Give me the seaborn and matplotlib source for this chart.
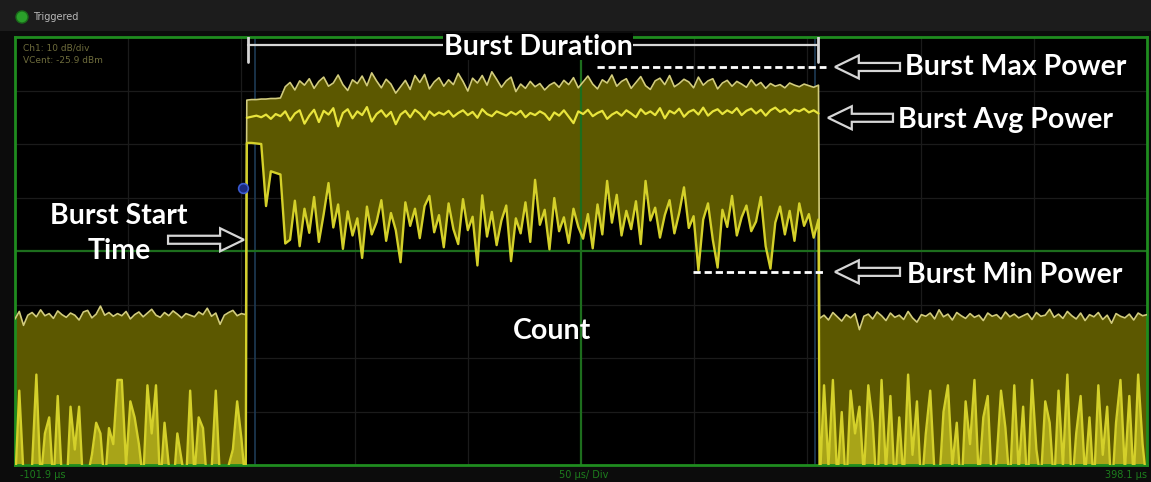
import numpy as np
import pandas as pd
import matplotlib
matplotlib.use("Agg")
import matplotlib.pyplot as plt
from matplotlib.patches import FancyArrow, Ellipse, Rectangle
import seaborn as sns

# ---------------- sweep settings ----------------
T_START = -101.9      # µs, left edge
T_DIV = 50.0          # µs / div
N_XDIV = 10
V_CENT = -25.9        # dBm, vertical centre
DB_DIV = 10.0         # dB / div
N_YDIV = 8
BURST_START = 0.5     # µs
BURST_END = 253.0     # µs
TRIGGER_T = -1.2
TRIGGER_LEVEL = -14.1

# ---------------- traces (dBm) ----------------
PRE_MAX = [-38.6, -37.2, -39.8, -37.9, -37.4, -38.2, -36.9, -38.0, -37.6, -38.5, -37.1,
           -37.8, -38.3, -37.5, -37.9, -38.8, -37.3, -37.0, -38.4, -37.7, -36.2, -37.9,
           -37.4, -38.1, -37.6, -38.0, -37.2, -38.6, -37.8, -37.3, -38.2, -37.5, -36.8,
           -37.9, -38.3, -37.4, -38.0, -37.1, -37.7, -38.4, -37.6, -37.9, -38.2, -37.3,
           -37.8, -36.6, -38.1, -37.5, -39.6, -37.9, -37.4, -37.0, -38.0, -37.6, -37.8]
PRE_MIN = [-70, -52, -68, -71, -66, -49, -69, -60, -57, -70, -53,
           -69, -72, -55, -63, -55, -71, -68, -64, -58, -60, -70,
           -59, -62, -50, -50, -66, -54, -57, -62, -69, -51, -60,
           -51, -70, -58, -66, -71, -60, -65, -70, -52, -68, -57,
           -59, -70, -67, -52, -69, -71, -66, -63, -54, -61, -70]

BURST_MAX = [2.3, 2.4, 2.4, 2.5, 2.5, 2.6, 2.6, 2.7, 4.8, 5.6,
             4.2, 5.9, 5.1, 6.3, 4.5, 5.8, 6.6, 4.9, 5.5, 7.0,
             5.2, 4.1, 6.1, 5.4, 6.8, 5.0, 7.4, 5.9, 4.6, 6.2,
             5.3, 3.6, 4.8, 6.0, 4.3, 6.9, 5.6, 7.1, 4.4, 5.7,
             6.5, 4.9, 6.1, 5.2, 7.3, 5.8, 4.0, 6.4, 5.5, 6.9,
             5.1, 7.6, 6.2, 4.7, 5.9, 6.6, 3.9, 5.3, 4.5, 5.8,
             4.8, 5.4, 4.2, 5.1, 5.6, 4.7, 6.0, 5.2, 6.5, 4.6,
             5.7, 6.8, 5.3, 4.4, 6.1, 5.5, 7.0, 4.9, 5.8, 6.3,
             4.5, 5.6, 6.7, 5.0, 4.3, 5.9, 6.4, 5.2, 6.9, 4.8,
             5.4, 6.2, 5.7, 4.6, 6.6, 5.1, 5.9, 6.3, 4.4, 5.5,
             6.0, 4.9, 5.8, 5.3, 4.7, 6.1, 5.0, 5.6, 4.5, 5.4,
             4.9, 5.2, 4.6, 5.5, 5.1, 4.8, 5.3, 5.0, 4.7, 5.1]
BURST_AVG = [-1.0, -0.8, -0.6, -0.9, -0.4, -1.2, -0.3, -0.7, 0.2, -1.5,
             -0.2, 0.4, -2.1, -0.6, 0.5, -1.8, 0.3, -0.4, 0.8, -2.6,
             -0.1, 0.6, -1.1, 0.2, -0.5, 1.0, -1.7, -0.3, 0.4, -0.8,
             0.1, -2.2, -0.4, 0.3, -0.9, 0.5, -0.2, -1.3, 0.2, -0.6,
             0.0, -0.4, 0.3, -0.8, -0.1, 0.4, -0.5, 0.1, -1.0, 0.6,
             -0.3, -0.7, 0.2, -0.2, -0.6, 0.1, -0.4, 0.3, -0.9, -0.1,
             -0.5, 0.2, -0.3, -1.4, 0.0, -0.6, 0.4, -0.8, -2.0, 0.2,
             -0.3, 0.5, -0.7, -0.1, 0.3, -1.2, -0.4, 0.1, -0.6, 0.4,
             -0.2, -0.9, 0.6, -0.3, 0.2, -0.5, 0.8, -1.1, 0.3, -0.2,
             0.7, -0.8, 0.1, 0.5, -0.4, 0.9, -0.6, 0.2, 0.6, -0.3,
             0.4, -0.1, 0.8, -0.5, 0.3, 0.7, -0.2, 0.5, -0.6, 0.4,
             0.9, 0.1, 0.6, -0.3, 0.5, 0.2, 0.7, 0.0, 0.4, -0.2]
BURST_MIN = [-5.7, -5.7, -5.8, -5.9, -17.5, -11.0, -11.3, -11.6, -24.5, -23.8,
             -16.5, -25.0, -18.0, -22.5, -15.8, -24.2, -19.0, -13.2, -21.5, -17.2,
             -25.5, -18.5, -23.0, -19.8, -27.2, -17.6, -22.8, -20.5, -16.4, -24.0,
             -18.8, -22.0, -28.0, -16.8, -21.2, -18.0, -23.5, -17.5, -15.6, -22.4,
             -19.2, -25.2, -17.0, -21.8, -24.6, -16.2, -22.0, -19.5, -28.6, -15.5,
             -23.2, -18.6, -24.8, -20.2, -17.4, -27.8, -19.8, -22.6, -16.8, -24.2,
             -12.6, -21.0, -18.2, -25.6, -16.0, -22.2, -19.6, -24.4, -18.0, -21.4,
             -23.6, -19.0, -25.4, -17.2, -22.8, -12.8, -20.6, -15.4, -23.0, -18.4,
             -21.8, -16.6, -24.6, -12.8, -20.2, -17.8, -23.4, -19.2, -16.4, -22.6,
             -18.8, -14.0, -21.6, -19.4, -29.5, -20.0, -17.0, -23.8, -29.0, -18.2,
             -21.4, -15.6, -23.0, -19.6, -17.4, -22.2, -20.4, -15.8, -25.0, -29.2,
             -20.6, -17.6, -22.8, -18.4, -24.0, -17.0, -21.2, -19.0, -23.4, -20.0]

POST_MAX = [-38.5, -37.9, -38.8, -37.4, -38.2, -39.0, -37.8, -38.4, -37.6, -40.6, -38.1, -37.7, -38.6, -37.3, -38.0,
            -38.9, -37.5, -38.3, -37.9, -38.7, -37.2, -38.4, -39.2, -37.8, -38.1, -37.5, -38.6, -36.9, -38.2, -37.7,
            -38.8, -37.4, -38.0, -38.5, -37.6, -38.3, -37.9, -38.9, -37.5, -38.1, -37.8, -38.6, -37.3, -38.2, -37.7,
            -38.4, -38.0, -37.6, -38.7, -37.4, -38.1, -37.9, -36.8, -38.3, -37.7, -38.5, -37.2, -38.0, -38.6, -37.5,
            -38.9, -37.8, -38.2, -37.4, -38.7, -37.9, -39.4, -37.6, -38.1, -38.4, -37.7, -38.8, -37.5, -38.0, -37.8]
POST_MIN = [-70, -51, -66, -50, -69, -56, -71, -52, -60, -55, -68, -51, -58, -72, -50,
            -67, -53, -70, -57, -69, -49, -64, -54, -71, -60, -52, -68, -70, -56, -51,
            -66, -58, -72, -54, -62, -50, -69, -57, -53, -71, -65, -52, -59, -70, -51,
            -67, -55, -71, -50, -63, -69, -54, -58, -70, -52, -66, -49, -71, -60, -53,
            -68, -57, -70, -51, -64, -55, -72, -58, -50, -67, -53, -69, -49, -62, -70]

# ---------------- labels ----------------
HEADER_LABEL = "Triggered"
SCALE_LABELS = ["Ch1: 10 dB/div", "VCent: -25.9 dBm"]
X_LEFT_LABEL = "-101.9 µs"
X_MID_LABEL = "50 µs/ Div"
X_RIGHT_LABEL = "398.1 µs"
ANNOT_DURATION = "Burst Duration"
ANNOT_MAX = "Burst Max Power"
ANNOT_AVG = "Burst Avg Power"
ANNOT_MIN = "Burst Min Power"
ANNOT_START = "Burst Start\nTime"
ANNOT_COUNT = "Count"

# ---------------- colours ----------------
FILL_C = "#5c5800"
SPIKE_FILL_C = "#a8a418"
MAX_C = "#d2cc7c"
AVG_C = "#e8e43c"
MIN_C = "#d4d02a"
GRID_DIM = "#1b1b1b"
GRID_GREEN = "#1d6e1d"
FRAME_GREEN = "#1f8c1f"
MARK_BLUE = "#1d3a55"

# ---------------- build traces ----------------
T_END = T_START + T_DIV * N_XDIV
V_BOT = V_CENT - DB_DIV * N_YDIV / 2
V_TOP = V_CENT + DB_DIV * N_YDIV / 2

t_pre = np.linspace(T_START, 0.0, len(PRE_MAX))
t_burst = np.linspace(BURST_START, BURST_END, len(BURST_MAX))
t_post = np.linspace(BURST_END + 0.5, T_END, len(POST_MAX))
t_all = np.concatenate([t_pre, t_burst, t_post])
max_all = np.concatenate([PRE_MAX, BURST_MAX, POST_MAX]).astype(float)
min_all = np.concatenate([PRE_MIN, BURST_MIN, POST_MIN]).astype(float)

df_max = pd.DataFrame({"t": t_all, "dBm": max_all})
df_min = pd.DataFrame({"t": t_all, "dBm": min_all})
df_avg = pd.DataFrame({"t": t_burst, "dBm": BURST_AVG})

# ---------------- figure ----------------
sns.set_theme(style="dark")
plt.rcParams["font.family"] = ["Lato", "DejaVu Sans"]

W, H = 1151, 482
fig = plt.figure(figsize=(W / 100, H / 100), dpi=100, facecolor="#0c0c0c")
fig.add_artist(Rectangle((0, 1 - 31 / H), 1, 31 / H, transform=fig.transFigure,
                         facecolor="#1c1c1c", edgecolor="none"))
fig.add_artist(Ellipse((22 / W, 1 - 17 / H), 12 / W, 12 / H, transform=fig.transFigure,
                       facecolor="#2aa02a", edgecolor="#1a6a1a"))
fig.text(33 / W, 1 - 17 / H, HEADER_LABEL, color="#b8b8b8", fontsize=7,
         va="center", ha="left", family=["DejaVu Sans"])

ax = fig.add_axes([15 / W, 17 / H, 1132 / W, 428 / H])
ax.set_facecolor("black")

# grid
for k in range(1, N_XDIV):
    x = T_START + k * T_DIV
    ax.axvline(x, color=GRID_GREEN if k == N_XDIV // 2 else GRID_DIM,
               lw=1.6 if k == N_XDIV // 2 else 0.9, zorder=2.5 if k == N_XDIV // 2 else 1)
for k in range(1, N_YDIV):
    y = V_BOT + k * DB_DIV
    ax.axhline(y, color=GRID_GREEN if k == N_YDIV // 2 else GRID_DIM,
               lw=1.6 if k == N_YDIV // 2 else 0.9, zorder=2.5 if k == N_YDIV // 2 else 1)

# burst markers
ax.axvline(BURST_START + 3.5, color=MARK_BLUE, lw=1.2, zorder=1.5)
ax.axvline(BURST_END - 1.5, color=MARK_BLUE, lw=1.2, zorder=1.5)

# envelope fill
ax.fill_between(t_all, min_all, max_all, color=FILL_C, lw=0, zorder=2)
# noise-floor spikes are drawn solid in the off-burst segments
ax.fill_between(t_pre, V_BOT - 10, PRE_MIN, color=SPIKE_FILL_C, lw=0, zorder=2.2)
ax.fill_between(t_post, V_BOT - 10, POST_MIN, color=SPIKE_FILL_C, lw=0, zorder=2.2)

sns.lineplot(data=df_max, x="t", y="dBm", ax=ax, color=MAX_C, lw=1.2,
             estimator=None, sort=False, zorder=3)
sns.lineplot(data=df_avg, x="t", y="dBm", ax=ax, color=AVG_C, lw=1.6,
             estimator=None, sort=False, zorder=3.2)
sns.lineplot(data=df_min, x="t", y="dBm", ax=ax, color=MIN_C, lw=1.7,
             estimator=None, sort=False, zorder=3.1)

# trigger marker
ax.plot([TRIGGER_T], [TRIGGER_LEVEL], marker="o", ms=7, mfc="#1a2a80", mec="#3a5ad0",
        mew=1.2, zorder=4)

ax.set_xlim(T_START, T_END)
ax.set_ylim(V_BOT, V_TOP)
ax.set_xticks([])
ax.set_yticks([])
ax.set_xlabel("")
ax.set_ylabel("")
ax.grid(False)
for s in ax.spines.values():
    s.set_visible(True)
    s.set_color(FRAME_GREEN)
    s.set_linewidth(2)

# scale labels
ax.text(0.007, 0.975, SCALE_LABELS[0], transform=ax.transAxes, color="#6e6c3c",
        fontsize=6.5, va="center", family=["DejaVu Sans"])
ax.text(0.007, 0.945, SCALE_LABELS[1], transform=ax.transAxes, color="#6e6c3c",
        fontsize=6.5, va="center", family=["DejaVu Sans"])

# bottom labels
fig.text(20 / W, 1 - 475 / H, X_LEFT_LABEL, color="#1d7d1d", fontsize=7, va="center",
         ha="left", family=["DejaVu Sans"])
fig.text(584 / W, 1 - 475 / H, X_MID_LABEL, color="#1d7d1d", fontsize=7, va="center",
         ha="center", family=["DejaVu Sans"])
fig.text(1147 / W, 1 - 475 / H, X_RIGHT_LABEL, color="#1d7d1d", fontsize=7, va="center",
         ha="right", family=["DejaVu Sans"])

# ---------------- annotations ----------------
TXT = dict(color="white", fontsize=20.5, fontweight="bold", zorder=8)
LINE_C = "#d6d6d6"


def hollow_arrow(tail, tip, v):
    a = FancyArrow(tail, v, tip - tail, 0, width=1.5, head_width=4.3, head_length=10.5,
                   length_includes_head=True, facecolor="black", edgecolor=LINE_C,
                   lw=1.6, zorder=7)
    ax.add_patch(a)


# duration bar
ax.plot([BURST_START + 0.5, BURST_END], [12.6, 12.6], color=LINE_C, lw=1.6, zorder=6)
ax.plot([BURST_START + 0.5, BURST_START + 0.5], [14.1, 9.4], color=LINE_C, lw=2, zorder=6)
ax.plot([BURST_END, BURST_END], [14.1, 9.4], color=LINE_C, lw=2, zorder=6)
ax.text(129.1, 12.3, ANNOT_DURATION, ha="center", va="center",
        bbox=dict(facecolor="black", edgecolor="none", pad=0.5), **TXT)

# max power
ax.plot([155.2, 256.3], [8.5, 8.5], color="white", lw=2, dashes=(2.6, 1.4), zorder=6)
hollow_arrow(289.0, 260.3, 8.5)
ax.text(291.2, 8.4, ANNOT_MAX, ha="left", va="center", **TXT)

# avg power
hollow_arrow(285.9, 257.2, -1.0)
ax.text(288.1, -1.4, ANNOT_AVG, ha="left", va="center", **TXT)

# min power
ax.plot([197.6, 256.3], [-29.8, -29.8], color="white", lw=2, dashes=(2.6, 1.4), zorder=6)
hollow_arrow(289.0, 260.3, -29.8)
ax.text(292.1, -30.4, ANNOT_MIN, ha="left", va="center", **TXT)

# burst start time
ax.text(-56.0, -22.6, ANNOT_START, ha="center", va="center", linespacing=1.4, **TXT)
hollow_arrow(-34.3, -0.8, -23.8)

# count
ax.text(135.3, -40.9, ANNOT_COUNT, ha="center", va="center", **TXT)

fig.savefig("out.png", dpi=100, facecolor=fig.get_facecolor())
